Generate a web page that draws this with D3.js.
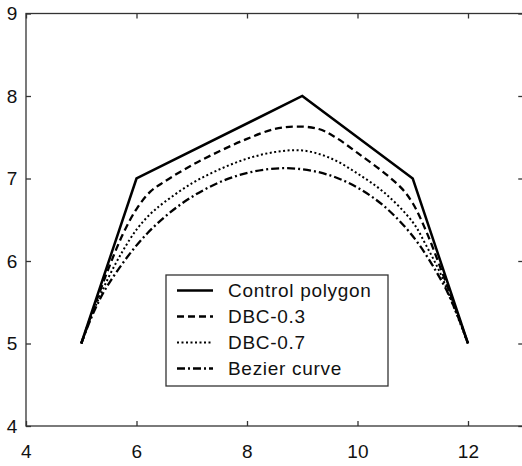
<!DOCTYPE html>
<html>
<head>
<meta charset="utf-8">
<script src="https://cdn.jsdelivr.net/npm/d3@7"></script>
<style>
  html, body { margin: 0; padding: 0; background: #fff; }
  svg { display: block; }
  text { font-family: "Liberation Sans", Arial, sans-serif; fill: #111; }
</style>
</head>
<body>
<div id="chart"></div>
<script>
// ---- data ----
const xTicks = [4, 6, 8, 10, 12];
const yTicks = [4, 5, 6, 7, 8, 9];

const polygonX = [5, 6, 9, 11, 12];
const polygonY = [5, 7, 8, 7, 5];

const dbc03X = [5, 5.25, 5.5, 5.75, 6, 6.25, 6.5, 7, 7.5, 8, 8.5, 8.9, 9.3, 9.6, 10, 10.5, 10.8, 11, 11.25, 11.5, 11.75, 12];
const dbc03Y = [5, 5.47, 5.92, 6.32, 6.63, 6.84, 6.96, 7.16, 7.33, 7.48, 7.6, 7.63, 7.6, 7.5, 7.31, 7.06, 6.88, 6.7, 6.35, 5.92, 5.47, 5];

const dbc07X = [5, 5.25, 5.5, 5.75, 6, 6.25, 6.5, 7, 7.5, 8, 8.5, 9, 9.5, 10, 10.5, 11, 11.25, 11.5, 11.75, 12];
const dbc07Y = [5, 5.44, 5.81, 6.12, 6.38, 6.57, 6.71, 6.94, 7.11, 7.24, 7.32, 7.34, 7.25, 7.06, 6.82, 6.47, 6.18, 5.85, 5.43, 5];

const bezierX = [5, 5.2285, 5.508, 6.189, 6.98, 7.829, 8.6875, 9.517, 10.284, 10.965, 11.54, 11.785, 12];
const bezierY = [5, 5.3845, 5.736, 6.331, 6.768, 7.035, 7.125, 7.035, 6.768, 6.331, 5.736, 5.3845, 5];

const legendLabels = ["Control polygon", "DBC-0.3", "DBC-0.7", "Bezier curve"];

// ---- drawing ----
const W = 522, H = 466;
const svg = d3.select("#chart").append("svg").attr("width", W).attr("height", H);

const x = d3.scaleLinear().domain([4, 13]).range([26, 523.25]);
const y = d3.scaleLinear().domain([4, 9]).range([426, 13.5]);

const axisColor = "#333";

// frame
svg.append("rect")
  .attr("x", x(4)).attr("y", y(9))
  .attr("width", x(13) - x(4)).attr("height", y(4) - y(9))
  .attr("fill", "none").attr("stroke", axisColor).attr("stroke-width", 1.3);

function styleAxis(g) {
  g.select(".domain").remove();
  g.selectAll(".tick line").attr("stroke", axisColor).attr("stroke-width", 1.3);
  g.selectAll(".tick text").style("font-size", "19px").style("letter-spacing", "0.3px").attr("fill", "#222");
}

svg.append("g").attr("transform", `translate(0,${y(4)})`)
  .call(d3.axisBottom(x).tickValues(xTicks).tickSizeInner(-5).tickSizeOuter(0).tickPadding(19).tickFormat(d3.format("d")))
  .call(styleAxis);
svg.append("g").attr("transform", `translate(0,${y(9)})`)
  .call(d3.axisTop(x).tickValues(xTicks).tickSizeInner(-5).tickSizeOuter(0).tickFormat(""))
  .call(styleAxis);
svg.append("g").attr("transform", `translate(${x(4)},0)`)
  .call(d3.axisLeft(y).tickValues(yTicks).tickSizeInner(-5).tickSizeOuter(0).tickPadding(8.5).tickFormat(d3.format("d")))
  .call(styleAxis);
svg.append("g").attr("transform", `translate(${x(13)},0)`)
  .call(d3.axisRight(y).tickValues(yTicks).tickSizeInner(-5).tickSizeOuter(0).tickFormat(""))
  .call(styleAxis);

const styles = [
  { dash: null, width: 2.5 },
  { dash: "7,4", width: 2.3 },
  { dash: "2,2.5", width: 2 },
  { dash: "8,3,2,3", width: 2.3 }
];

const series = [
  { xs: polygonX, ys: polygonY, curve: d3.curveLinear },
  { xs: dbc03X, ys: dbc03Y, curve: d3.curveCatmullRom },
  { xs: dbc07X, ys: dbc07Y, curve: d3.curveCatmullRom },
  { xs: bezierX, ys: bezierY, curve: d3.curveCatmullRom }
];

series.forEach((s, i) => {
  const pts = s.xs.map((v, j) => [v, s.ys[j]]);
  const line = d3.line().x(d => x(d[0])).y(d => y(d[1])).curve(s.curve);
  svg.append("path").datum(pts)
    .attr("d", line)
    .attr("fill", "none")
    .attr("stroke", "#000")
    .attr("stroke-width", styles[i].width)
    .attr("stroke-linejoin", "miter")
    .attr("stroke-dasharray", styles[i].dash);
});

// legend
const lg = svg.append("g");
lg.append("rect")
  .attr("x", 166).attr("y", 275).attr("width", 222).attr("height", 111)
  .attr("fill", "#fff").attr("stroke", axisColor).attr("stroke-width", 1.3);
legendLabels.forEach((lab, i) => {
  const cy = 290.5 + i * 26;
  lg.append("line")
    .attr("x1", 177).attr("x2", 213).attr("y1", cy).attr("y2", cy)
    .attr("stroke", "#000").attr("stroke-width", styles[i].width)
    .attr("stroke-dasharray", styles[i].dash);
  lg.append("text")
    .attr("x", 228).attr("y", cy).attr("dy", "0.35em")
    .style("font-size", "19px")
    .style("letter-spacing", "0.7px")
    .attr("fill", "#222")
    .text(lab);
});
</script>
</body>
</html>
